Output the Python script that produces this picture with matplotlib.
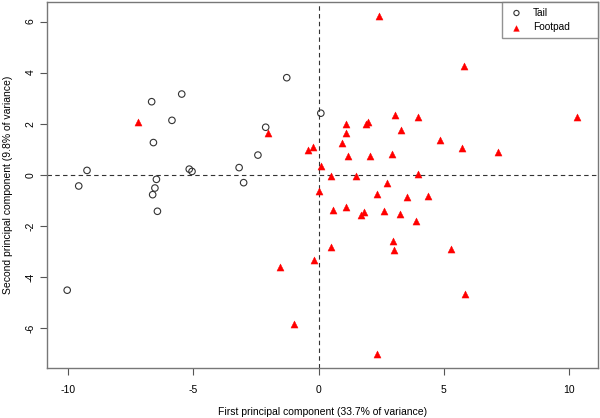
import numpy as np
import matplotlib
matplotlib.use("Agg")
import matplotlib.pyplot as plt

plt.rcParams['font.family'] = ['Liberation Sans', 'DejaVu Sans']

# PCA scores
tail_x = [-1.27, -6.66, -5.46, -5.85, -6.59, -2.11, -2.42, -3.17, -2.99, -9.24,
          -9.57, -5.16, -5.05, -6.47, -6.53, -6.62, -6.43, -10.03, 0.09]
tail_y = [3.80, 2.86, 3.16, 2.13, 1.26, 1.86, 0.77, 0.28, -0.31, 0.17,
          -0.44, 0.22, 0.13, -0.18, -0.52, -0.78, -1.43, -4.52, 2.41]

foot_x = [-7.22, -2.00, -0.43, -0.22, 0.02, 2.43, 5.81, 10.32, 3.05, 3.95,
          1.10, 1.96, 1.91, 1.10, 3.29, 0.94, 4.85, 5.74, 7.17, 1.18,
          2.04, 2.93, 0.10, 0.50, 1.51, 3.97, 2.75, 2.35, 3.52, 4.36,
          0.59, 1.11, 1.83, 1.71, 2.61, 3.23, 3.89, 2.97, 3.00, 0.51,
          5.30, -0.17, 5.84, 2.34, -1.54, -0.98]
foot_y = [2.06, 1.62, 0.98, 1.10, -0.65, 6.23, 4.27, 2.27, 2.32, 2.27,
          1.99, 2.07, 1.99, 1.65, 1.77, 1.23, 1.35, 1.06, 0.89, 0.72,
          0.72, 0.80, 0.35, -0.06, -0.05, 0.04, -0.31, -0.76, -0.87, -0.85,
          -1.39, -1.27, -1.44, -1.58, -1.40, -1.55, -1.83, -2.61, -2.96, -2.83,
          -2.92, -3.33, -4.68, -7.03, -3.61, -5.86]

xticks = [-10, -5, 0, 5, 10]
yticks = [-6, -4, -2, 0, 2, 4, 6]

fig = plt.figure(figsize=(6, 4.18), dpi=100)
ax = fig.add_axes([0.078, 0.12, 0.918, 0.875])

ax.scatter(tail_x, tail_y, s=22, facecolors='none', edgecolors='#333333',
           linewidths=0.8, label='Tail', zorder=3)
ax.scatter(foot_x, foot_y, s=26, marker='^', color='red', edgecolors='red',
           linewidths=0.3, label='Footpad', zorder=3)

ax.axhline(0, color='#333333', ls=(0, (4, 3)), lw=0.8, zorder=1)
ax.axvline(0, color='#333333', ls=(0, (4, 3)), lw=0.8, zorder=1)

# R style 4% padding around the data
allx = tail_x + foot_x
ally = tail_y + foot_y
dx = (max(allx) - min(allx)) * 0.04
dy = (max(ally) - min(ally)) * 0.04
ax.set_xlim(min(allx) - dx, max(allx) + dx)
ax.set_ylim(min(ally) - dy, max(ally) + dy)

ax.set_xticks(xticks)
ax.set_yticks(yticks)
ax.set_xticklabels([str(t) for t in xticks])
ax.set_yticklabels([str(t) for t in yticks], rotation=90, va='center')
ax.tick_params(colors='#555555', labelcolor='black', labelsize=7.5,
               length=5, width=0.8)
ax.tick_params(axis='x', pad=7)
ax.tick_params(axis='y', pad=3)
for s in ax.spines.values():
    s.set_color('#777777')
    s.set_linewidth(1.0)

ax.set_xlabel('First principal component (33.7% of variance)', fontsize=7.5,
              labelpad=9)
ax.set_ylabel('Second principal component (9.8% of variance)', fontsize=7.5)
ax.yaxis.set_label_coords(-0.061, 0.5)

leg = ax.legend(loc='upper left', bbox_to_anchor=(0.826, 1.0, 0.174, 0.0),
                mode='expand', fontsize=7.3, frameon=True, fancybox=False,
                borderaxespad=0, handletextpad=0.7, borderpad=0.55,
                labelspacing=0.45, handlelength=1.8, markerscale=0.8)
leg.get_frame().set_edgecolor('#777777')
leg.get_frame().set_linewidth(1.0)

fig.savefig('out.png', dpi=100)
